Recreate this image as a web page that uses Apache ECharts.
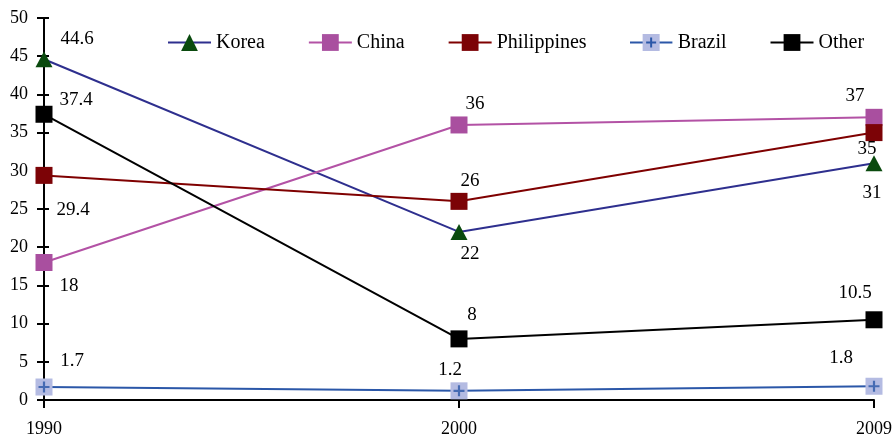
<!DOCTYPE html>
<html>
<head>
<meta charset="utf-8">
<script src="https://cdn.jsdelivr.net/npm/echarts@6/dist/echarts.min.js"></script>
<style>
  html, body { margin: 0; padding: 0; background: #fff; }
  #chart { width: 895px; height: 438px; }
</style>
</head>
<body>
<div id="chart"></div>
<script>
// Years on the horizontal axis
const years = ['1990', '2000', '2009'];

// Share (%) by country of origin
const korea = [44.6, 22, 31];
const china = [18, 36, 37];
const philippines = [29.4, 26, 35];
const brazil = [1.7, 1.2, 1.8];
const other = [37.4, 8, 10.5];

// Value-label placement around each marker, in pixels [dx, dy]
const labelOffsets = {
  Korea: [[33, -20], [11, 22], [-2, 30]],
  China: [[25, 24], [16, -21], [-19, -21]],
  Philippines: [[29, 35], [11, -20], [-7, 16]],
  Brazil: [[28, -26], [-9, -21], [-33, -28]],
  Other: [[32, -14], [13, -24], [-19, -27]]
};

const FONT = 'Liberation Serif, Times New Roman, serif';

function withLabels(name, values) {
  return values.map((v, i) => ({
    value: v,
    label: { offset: labelOffsets[name][i] }
  }));
}

function lineSeries(name, values, lineColor, markColor, symbol, size) {
  return {
    name: name,
    type: 'line',
    data: withLabels(name, values),
    symbol: symbol,
    symbolSize: size,
    lineStyle: { color: lineColor, width: 2 },
    itemStyle: { color: markColor },
    label: {
      show: true,
      position: 'inside',
      color: '#000',
      fontFamily: FONT,
      fontSize: 19
    },
    emphasis: { disabled: true },
    animation: false
  };
}

// Legend icon for Brazil: line, pale square and a blue cross
const brazilIcon = 'image://data:image/svg+xml;utf8,' + encodeURIComponent(
  '<svg xmlns="http://www.w3.org/2000/svg" width="43" height="21">' +
  '<line x1="0" y1="10.5" x2="43" y2="10.5" stroke="#2B57A8" stroke-width="2"/>' +
  '<rect x="13" y="2" width="17" height="17" fill="#B4BBE2"/>' +
  '<path d="M16.5 10.5H26.5M21.5 5.5V15.5" stroke="#2B57A8" stroke-width="2"/>' +
  '</svg>'
);

const chart = echarts.init(document.getElementById('chart'), null, { renderer: 'canvas' });

chart.setOption({
  backgroundColor: '#fff',
  animation: false,
  grid: {
    left: 44, right: 21, top: 18, bottom: 38,
    containLabel: false,
    outerBoundsMode: 'none'
  },
  legend: {
    left: 167,
    top: 32,
    padding: 0,
    itemWidth: 43,
    itemHeight: 21,
    itemGap: 43,
    textStyle: { fontFamily: FONT, fontSize: 20, color: '#000' },
    data: [
      { name: 'Korea' },
      { name: 'China' },
      { name: 'Philippines' },
      { name: 'Brazil', icon: brazilIcon },
      { name: 'Other' }
    ]
  },
  xAxis: {
    type: 'category',
    data: years,
    boundaryGap: false,
    axisLine: { lineStyle: { color: '#000', width: 2 } },
    axisTick: { alignWithLabel: true, length: 8, lineStyle: { color: '#000', width: 2 } },
    axisLabel: { color: '#000', fontFamily: FONT, fontSize: 18, margin: 20 },
    splitLine: { show: false }
  },
  yAxis: [
    {
      type: 'value',
      min: 0, max: 50, interval: 5,
      position: 'left',
      axisLine: { show: true, lineStyle: { color: '#000', width: 2 } },
      axisTick: { show: true, length: 7, lineStyle: { color: '#000', width: 2 } },
      axisLabel: { color: '#000', fontFamily: FONT, fontSize: 18, margin: 16 },
      splitLine: { show: false }
    },
    {
      // inner half of the crossing tick marks
      type: 'value',
      min: 0, max: 50, interval: 5,
      position: 'left',
      offset: 0,
      axisLine: { show: false },
      axisTick: { show: true, inside: true, length: 5, lineStyle: { color: '#000', width: 2 } },
      axisLabel: { show: false },
      splitLine: { show: false }
    }
  ],
  series: [
    lineSeries('Korea', korea, '#2E2F8E', '#0A4A0E', 'triangle', [17, 16]),
    lineSeries('China', china, '#B352A5', '#A94F9F', 'rect', 17),
    lineSeries('Philippines', philippines, '#7F0000', '#7C0306', 'rect', 17),
    lineSeries('Brazil', brazil, '#2B57A8', '#B4BBE2', 'rect', 17),
    lineSeries('Other', other, '#000000', '#000000', 'rect', 17),
    {
      // blue cross drawn over the Brazil markers
      name: 'Brazil cross',
      type: 'scatter',
      data: brazil,
      symbol: 'path://M4,0H6V4H10V6H6V10H4V6H0V4H4Z',
      symbolSize: 11,
      itemStyle: { color: '#2B57A8' },
      silent: true,
      z: 5,
      animation: false
    }
  ]
});
</script>
</body>
</html>
